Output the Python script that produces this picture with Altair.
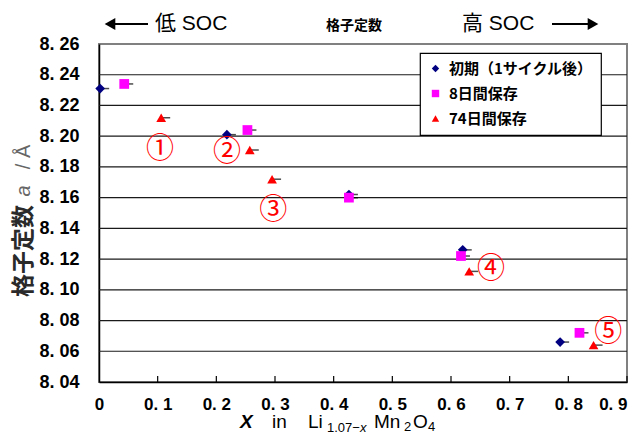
import altair as alt
import pandas as pd

# ---- data ----
series_names = ["初期（1サイクル後）", "8日間保存", "74日間保存"]
series_colors = ["#000080", "#FF00FF", "#FF0000"]
series_shapes = ["diamond", "square", "triangle-up"]

x_initial = [0.002, 0.218, 0.426, 0.620, 0.786]
y_initial = [8.231, 8.201, 8.162, 8.126, 8.066]

x_8d = [0.043, 0.253, 0.426, 0.617, 0.819]
y_8d = [8.234, 8.204, 8.160, 8.122, 8.072]

x_74d = [0.106, 0.257, 0.295, 0.631, 0.843]
y_74d = [8.212, 8.191, 8.172, 8.112, 8.064]

ann_labels = ["①", "②", "③", "④", "⑤"]
ann_x = [0.104, 0.218, 0.297, 0.668, 0.868]
ann_y = [8.191, 8.189, 8.151, 8.113, 8.072]

x_ticks = [0, 0.1, 0.2, 0.3, 0.4, 0.5, 0.6, 0.7, 0.8, 0.9]
y_ticks = [8.04, 8.06, 8.08, 8.10, 8.12, 8.14, 8.16, 8.18, 8.20, 8.22, 8.24, 8.26]

rows = []
for name, xs, ys in zip(series_names, [x_initial, x_8d, x_74d], [y_initial, y_8d, y_74d]):
    for a, b in zip(xs, ys):
        rows.append({"series": name, "x": a, "y": b})
df = pd.DataFrame(rows)
ann = pd.DataFrame({"label": ann_labels, "x": ann_x, "y": ann_y})
xticks_df = pd.DataFrame({"x": x_ticks[1:]})
grid_df = pd.DataFrame({"y": y_ticks[1:-1]})
one = pd.DataFrame({"k": [0]})

W, H = 528, 338
LABEL_FONT = "Liberation Sans Narrow, Arial Narrow, Liberation Sans, sans-serif"
CJK = "Noto Sans CJK JP"

xscale = alt.Scale(domain=[0, 0.9], nice=False, zero=False)
yscale = alt.Scale(domain=[8.04, 8.26], nice=False, zero=False)

xaxis = alt.Axis(
    values=x_ticks, title=None, ticks=False, grid=False,
    domainColor="black", domainWidth=1.5, labelOverlap=False,
    labelExpr="datum.value == 0 ? '0' : replace(format(datum.value, '.1f'), '.', '. ')",
    labelFont=LABEL_FONT, labelFontSize=17, labelFontWeight="bold", labelColor="black",
    labelPadding=14, labelFlush=False,
    labelAlign={"condition": {"test": "datum.value > 0.85", "value": "right"}, "value": "center"},
)
yaxis = alt.Axis(
    values=y_ticks, title=None, ticks=False, grid=False, labelOverlap=False,
    domainColor="black", domainWidth=1.5,
    labelExpr="replace(format(datum.value, '.2f'), '.', '. ')",
    labelFont=LABEL_FONT, labelFontSize=18, labelFontWeight="bold", labelColor="black",
    labelPadding=20,
)

X = alt.X("x:Q", scale=xscale, axis=xaxis)
Y = alt.Y("y:Q", scale=yscale, axis=yaxis)

base = alt.Chart(df)

grid = alt.Chart(grid_df).mark_rule(color="#1a1a1a", strokeWidth=1.2).encode(
    y=Y, x=alt.value(0), x2=alt.value(W))

errdash = base.mark_tick(orient="horizontal", size=8, thickness=1.5, color="black", xOffset=5).encode(
    x=X, y=Y)

points = base.mark_point(filled=True, opacity=1, size=95).encode(
    x=X, y=Y,
    color=alt.Color("series:N", scale=alt.Scale(domain=series_names, range=series_colors),
                    legend=alt.Legend(title=None, orient="none", legendX=321, legendY=9,
                                      fillColor="white", strokeColor="black", padding=8,
                                      labelFont=CJK, labelFontSize=15, labelFontWeight="bold",
                                      labelColor="black", symbolSize=55, rowPadding=9,
                                      symbolStrokeWidth=0, labelOffset=6)),
    shape=alt.Shape("series:N", scale=alt.Scale(domain=series_names, range=series_shapes)),
)

xticks_layer = alt.Chart(xticks_df).mark_rule(color="black", strokeWidth=1.2).encode(
    x=X, y=alt.value(H), y2=alt.value(H - 6)
)

annot = alt.Chart(ann).mark_text(font=CJK, fontSize=28, color="#FF0000").encode(
    x=X, y=Y, text="label:N"
)

def txt(s, x, y, size, weight="normal", align="left", font=CJK, angle=0, color="black", style="normal"):
    return alt.Chart(one).mark_text(text=s, fontSize=size, fontWeight=weight, align=align,
                                    baseline="middle", font=font, angle=angle, color=color,
                                    fontStyle=style).encode(
        x=alt.value(x), y=alt.value(y))

# top annotations
left_shaft = alt.Chart(one).mark_rule(color="black", strokeWidth=2).encode(
    x=alt.value(14), x2=alt.value(49), y=alt.value(-20))
left_head = alt.Chart(one).mark_point(shape="triangle-left", filled=True, color="black", size=150, opacity=1).encode(
    x=alt.value(11), y=alt.value(-20))
right_shaft = alt.Chart(one).mark_rule(color="black", strokeWidth=2).encode(
    x=alt.value(453), x2=alt.value(490), y=alt.value(-20))
right_head = alt.Chart(one).mark_point(shape="triangle-right", filled=True, color="black", size=150, opacity=1).encode(
    x=alt.value(494), y=alt.value(-20))

t_low = txt("低 SOC", 56, -20, 21, font="Liberation Sans, " + CJK)
t_high = txt("高 SOC", 363, -20, 21, font="Liberation Sans, " + CJK)
t_mid = txt("格子定数", 255, -18, 14, weight="bold", align="center")
y_title1 = txt("格子定数", -75, 207, 23, weight="bold", align="center", angle=270, color="#2a2a2a")
y_title2a = txt("a", -75, 147, 20, align="center", angle=270, color="#666666", font="Liberation Sans", style="italic")
y_title2b = txt("/  Å", -75, 113, 20, align="center", angle=270, color="#666666", font="Liberation Sans")

# x-axis title with subscripts
xt_y = 378
x_title = alt.layer(
    txt("X", 141, xt_y, 19, font="Liberation Sans", style="italic", weight="bold"),
    txt("in", 173, xt_y, 19, font="Liberation Sans"),
    txt("Li", 209, xt_y, 19, font="Liberation Sans"),
    txt("1.07−", 228, xt_y + 6, 13, font="Liberation Sans"),
    txt("x", 261, xt_y + 6, 13, font="Liberation Sans", style="italic"),
    txt("Mn", 275, xt_y, 19, font="Liberation Sans"),
    txt("2", 305, xt_y + 5, 13, font="Liberation Sans"),
    txt("O", 314, xt_y, 19, font="Liberation Sans"),
    txt("4", 329, xt_y + 5, 13, font="Liberation Sans"),
)

chart = alt.layer(
    grid, errdash, xticks_layer, points, annot,
    left_shaft, left_head, right_shaft, right_head, t_low, t_high, t_mid,
    y_title1, y_title2a, y_title2b, x_title,
).properties(
    width=W, height=H,
    autosize=alt.AutoSizeParams(type="none"),
    padding={"left": 91, "top": 36, "right": 1, "bottom": 53},
).configure_view(
    stroke="#808080", strokeWidth=2
).configure_legend(
    strokeWidth=1.2
)

chart.save("out.html", embed_options={"renderer": "svg", "actions": False})
